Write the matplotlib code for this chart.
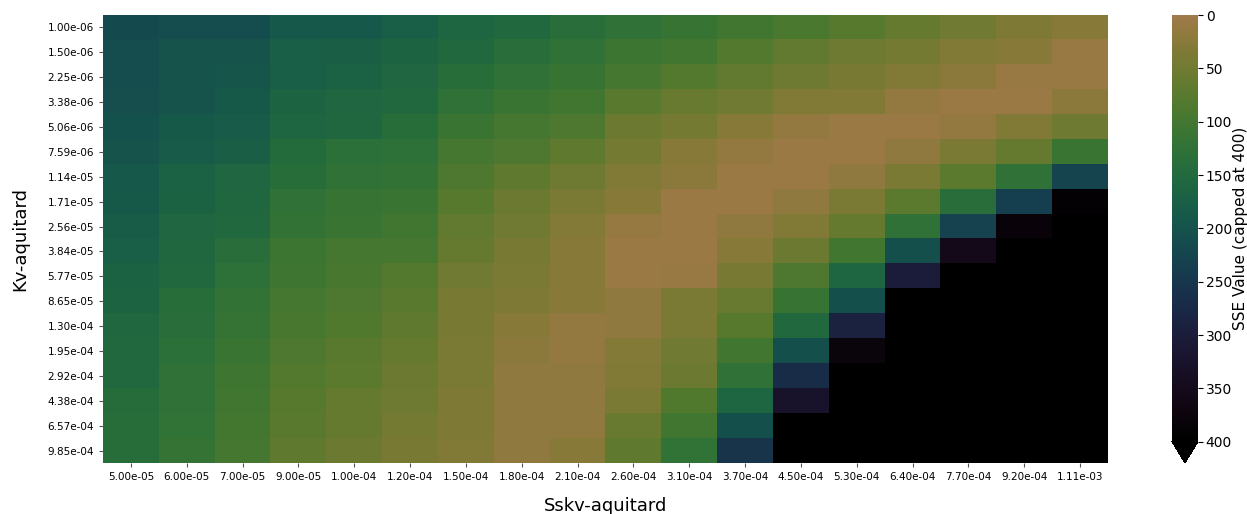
import numpy as np
import matplotlib
matplotlib.use("Agg")
import matplotlib.pyplot as plt
from matplotlib.colors import ListedColormap

# Sskv-aquitard values (columns)
sskv_labels = ['5.00e-05', '6.00e-05', '7.00e-05', '9.00e-05', '1.00e-04', '1.20e-04',
               '1.50e-04', '1.80e-04', '2.10e-04', '2.60e-04', '3.10e-04', '3.70e-04',
               '4.50e-04', '5.30e-04', '6.40e-04', '7.70e-04', '9.20e-04', '1.11e-03']

# Kv-aquitard values (rows)
kv_labels = ['1.00e-06', '1.50e-06', '2.25e-06', '3.38e-06', '5.06e-06', '7.59e-06',
             '1.14e-05', '1.71e-05', '2.56e-05', '3.84e-05', '5.77e-05', '8.65e-05',
             '1.30e-04', '1.95e-04', '2.92e-04', '4.38e-04', '6.57e-04', '9.85e-04']

# SSE grid, capped at 400
sse_values = [
    [215, 210, 210, 190, 188, 175, 160, 150, 135, 125, 115, 100, 90, 75, 60, 48, 35, 28],
    [210, 198, 195, 178, 172, 165, 150, 135, 128, 108, 100, 80, 65, 52, 45, 32, 25, 8],
    [210, 196, 192, 175, 170, 158, 138, 125, 115, 95, 80, 65, 52, 42, 32, 22, 8, 8],
    [208, 194, 186, 165, 158, 150, 125, 112, 100, 72, 58, 48, 32, 32, 15, 5, 5, 22],
    [200, 185, 184, 160, 155, 140, 110, 95, 85, 55, 46, 28, 15, 5, 5, 15, 32, 52],
    [195, 182, 172, 145, 132, 130, 95, 85, 68, 46, 28, 15, 5, 6, 18, 40, 60, 110],
    [188, 170, 158, 140, 128, 120, 85, 68, 52, 32, 22, 5, 5, 18, 40, 70, 125, 225],
    [185, 168, 155, 125, 115, 110, 75, 55, 40, 28, 5, 5, 18, 38, 70, 135, 235, 390],
    [180, 158, 150, 120, 110, 100, 65, 48, 30, 12, 5, 18, 32, 60, 125, 230, 380, 400],
    [178, 155, 135, 108, 95, 95, 60, 42, 28, 5, 5, 26, 55, 100, 205, 355, 400, 400],
    [168, 152, 130, 104, 92, 80, 48, 40, 28, 5, 8, 42, 85, 160, 300, 400, 400, 400],
    [165, 140, 120, 95, 85, 72, 42, 35, 25, 18, 38, 58, 115, 205, 400, 400, 400, 400],
    [155, 135, 118, 92, 82, 66, 42, 25, 15, 18, 40, 78, 150, 290, 400, 400, 400, 400],
    [152, 132, 110, 85, 72, 60, 40, 22, 14, 30, 48, 100, 205, 375, 400, 400, 400, 400],
    [150, 128, 105, 80, 70, 55, 38, 18, 16, 33, 56, 125, 270, 400, 400, 400, 400, 400],
    [142, 125, 100, 75, 62, 50, 36, 17, 18, 40, 82, 160, 325, 400, 400, 400, 400, 400],
    [140, 122, 98, 72, 60, 46, 35, 17, 18, 58, 100, 205, 400, 400, 400, 400, 400, 400],
    [138, 118, 95, 66, 55, 42, 33, 18, 25, 68, 122, 255, 400, 400, 400, 400, 400, 400],
]

data = np.array(sse_values, dtype=float)

# lower half of cubehelix, reversed: 0 -> tan, 400 -> black
cmap = ListedColormap(plt.cm.cubehelix(np.linspace(0.5, 0.0, 256)))
cmap.set_over('black')

fig = plt.figure(figsize=(12.47, 5.14), dpi=100)
ax = fig.add_axes([0.0826, 0.0992, 0.8059, 0.8716])
cax = fig.add_axes([0.9398, 0.0992, 0.0209, 0.8716])

im = ax.imshow(data, cmap=cmap, vmin=0, vmax=400, aspect='auto', interpolation='nearest')

ax.set_xticks(np.arange(len(sskv_labels)))
ax.set_xticklabels(sskv_labels, fontsize=7.5)
ax.set_yticks(np.arange(len(kv_labels)))
ax.set_yticklabels(kv_labels, fontsize=7.5)
ax.tick_params(length=3, width=0.8, color='#555555')
for s in ax.spines.values():
    s.set_visible(False)

ax.set_xlabel('Sskv-aquitard', fontsize=13, labelpad=11)
ax.set_ylabel('Kv-aquitard', fontsize=13, labelpad=13)

cbar = fig.colorbar(im, cax=cax, extend='max')
cbar.ax.invert_yaxis()
cbar.set_ticks([0, 50, 100, 150, 200, 250, 300, 350, 400])
cbar.ax.tick_params(labelsize=10, length=3.5, pad=2)
cbar.outline.set_visible(False)
cbar.set_label('SSE Value (capped at 400)', fontsize=11, labelpad=1)

fig.savefig('out.png', dpi=100)
